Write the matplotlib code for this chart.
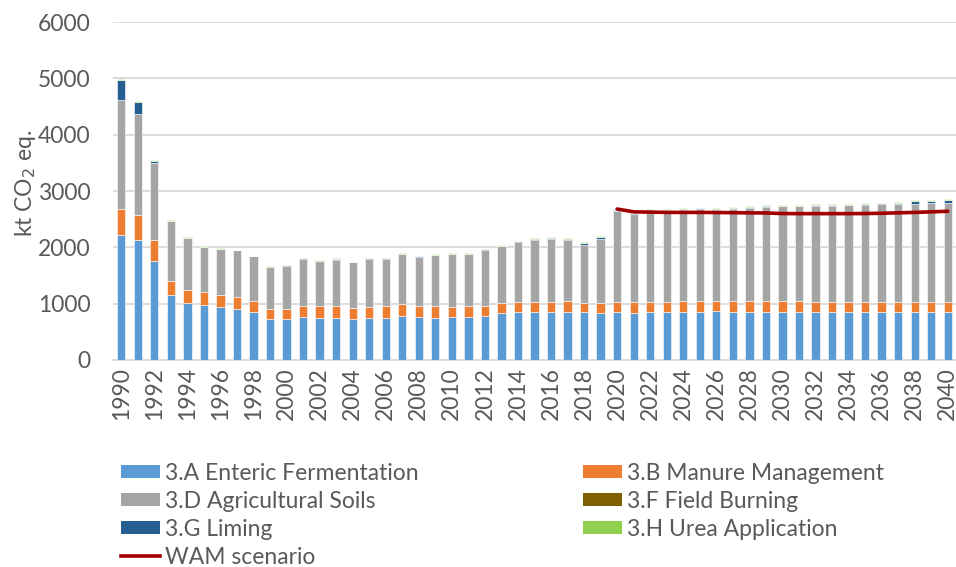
import matplotlib
matplotlib.use("Agg")
import matplotlib.pyplot as plt
import numpy as np
from matplotlib.patches import Patch
from matplotlib.lines import Line2D

years = list(range(1990, 2041))

enteric = [2224, 2130, 1762, 1151, 1008, 973, 937, 913, 848, 730,
           730, 759, 753, 753, 724, 741, 753, 789, 759, 753,
           759, 765, 789, 830, 860, 848, 860, 860, 848, 842,
           860, 842, 848, 848, 854, 860, 862, 860, 860, 860,
           860, 860, 858, 856, 850, 850, 850, 848, 848, 848, 848]

manure = [463, 450, 368, 255, 232, 231, 214, 214, 196, 177,
          178, 207, 202, 202, 195, 208, 202, 207, 207, 213,
          190, 190, 177, 178, 178, 190, 178, 190, 160, 172,
          178, 196, 190, 190, 190, 190, 188, 190, 190, 190,
          180, 182, 180, 180, 176, 176, 176, 176, 176, 176, 176]

soils = [1927, 1780, 1370, 1055, 925, 800, 818, 818, 795, 742,
         764, 831, 800, 824, 813, 848, 842, 878, 867, 890,
         925, 919, 991, 1008, 1050, 1097, 1109, 1085, 1038, 1139,
         1613, 1560, 1613, 1613, 1620, 1630, 1619, 1637, 1648, 1666,
         1688, 1686, 1702, 1704, 1719, 1731, 1737, 1745, 1751, 1763, 1769]

field_burning = [2] * 51

liming = [356, 225, 30, 8, 5, 5, 5, 5, 5, 5,
          5, 6, 8, 20, 6, 6, 6, 6, 6, 6,
          6, 8, 8, 10, 15, 15, 12, 15, 30, 30,
          8, 8, 8, 8, 10, 10, 10, 12, 12, 15,
          12, 12, 12, 12, 12, 12, 15, 18, 42, 35, 53]

urea = [20, 15, 10, 8, 8, 8, 8, 8, 8, 8,
        8, 8, 8, 8, 8, 8, 10, 10, 10, 10,
        10, 10, 10, 12, 12, 15, 15, 15, 22, 22,
        12, 12, 15, 12, 15, 15, 15, 15, 15, 15,
        15, 15, 15, 15, 15, 15, 15, 15, 15, 15, 15]

wam_years = list(range(2020, 2041))
wam = [2680, 2630, 2625, 2620, 2620, 2620, 2618, 2615, 2612, 2610,
       2600, 2598, 2598, 2598, 2598, 2600, 2605, 2612, 2620, 2630, 2640]

labels = ["3.A Enteric Fermentation", "3.B Manure Management",
          "3.D Agricultural Soils", "3.F Field Burning",
          "3.G Liming", "3.H Urea Application"]
colors = ["#5B9BD5", "#ED7D31", "#A5A5A5", "#7F6000", "#255E91", "#8FD14F"]
wam_label = "WAM scenario"
wam_color = "#A00000"

FONT = "Lato"
TXT = "#595959"
FS = 16.5

fig = plt.figure(figsize=(9.56, 5.67), dpi=100)
ax = fig.add_axes([113/956, (567-360)/567, (956-113)/956, (360-22)/567])

x = np.arange(len(years))
series = [enteric, manure, soils, field_burning, liming, urea]
bottom = np.zeros(len(years))
for vals, col in zip(series, colors):
    v = np.array(vals, dtype=float)
    ax.bar(x, v, width=0.5, bottom=bottom, color=col, edgecolor="white", linewidth=0.4, zorder=3)
    bottom += v

wx = [years.index(y) for y in wam_years]
ax.plot(wx, wam, color=wam_color, linewidth=2.6, zorder=4, solid_capstyle="round")

ax.set_xlim(-0.5, len(years) - 0.5)
ax.set_ylim(0, 6000)
ax.set_yticks(range(0, 6001, 1000))
ax.set_xticks(x[::2])
ax.set_xticklabels([str(y) for y in years[::2]], rotation=90)
ax.tick_params(axis="both", length=0, labelsize=FS, labelcolor=TXT)
ax.tick_params(axis="x", pad=5)
ax.tick_params(axis="y", pad=16)
for lab in ax.get_xticklabels() + ax.get_yticklabels():
    lab.set_fontfamily(FONT)
ax.grid(axis="y", color="#D9D9D9", linewidth=1.3, zorder=0)
for s in ["top", "right", "left"]:
    ax.spines[s].set_visible(False)
ax.spines["bottom"].set_color("#D9D9D9")
ax.spines["bottom"].set_linewidth(1.3)

fig.text(26/956, 1 - 183/567, "kt CO$_2$ eq.", rotation=90, ha="center", va="center",
         fontsize=FS, color=TXT, fontfamily=FONT)

handles = [Patch(facecolor=c) for c in colors]
hA, hB, hD, hF, hG, hH = handles
hW = Line2D([0], [0], color=wam_color, linewidth=2.6)
order_h = [hA, hD, hG, hW, hB, hF, hH]
order_l = [labels[0], labels[2], labels[4], wam_label, labels[1], labels[3], labels[5]]
leg = fig.legend(order_h, order_l, loc="upper left", bbox_to_anchor=(121/956, 1 - 463/567),
                 ncol=2, frameon=False, handlelength=1.7, handleheight=0.5,
                 handletextpad=0.2, labelspacing=0.30, columnspacing=7.2,
                 prop={"family": FONT, "size": FS}, borderpad=0, borderaxespad=0)
for t in leg.get_texts():
    t.set_color(TXT)

fig.savefig("out.png", dpi=100)
